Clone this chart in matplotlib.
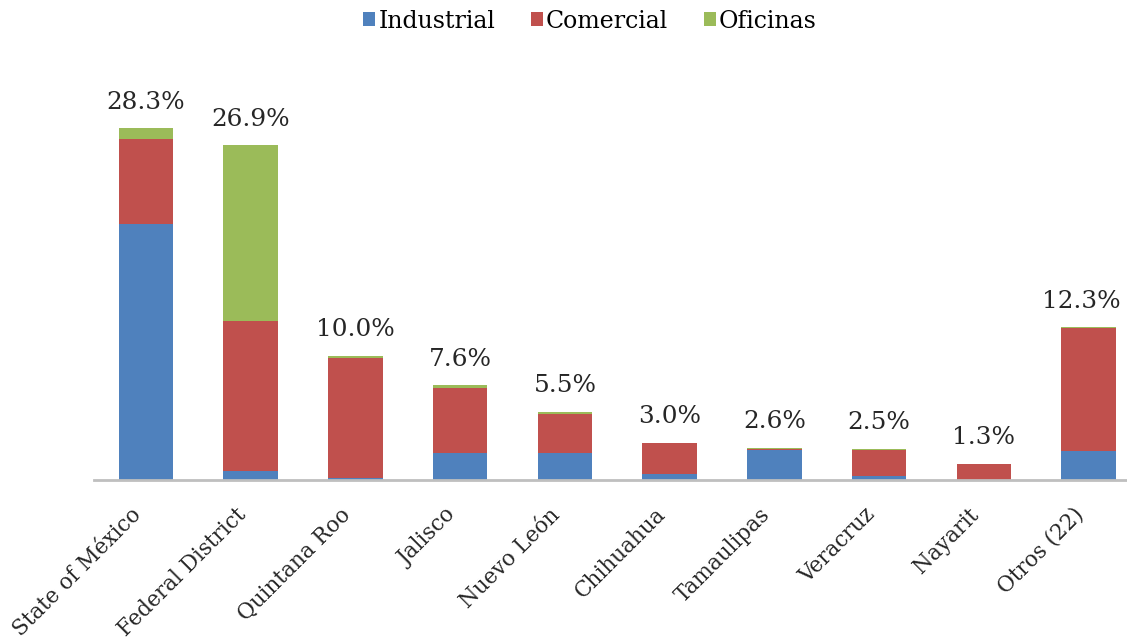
import matplotlib
matplotlib.use("Agg")
import matplotlib.pyplot as plt
import numpy as np

# Share of built area by state and use (percent)
states = ["State of México", "Federal District", "Quintana Roo", "Jalisco",
          "Nuevo León", "Chihuahua", "Tamaulipas", "Veracruz", "Nayarit",
          "Otros (22)"]
industrial = [20.6, 0.7, 0.2, 2.2, 2.2, 0.5, 2.4, 0.3, 0.0, 2.3]
comercial = [6.8, 12.1, 9.6, 5.2, 3.1, 2.5, 0.1, 2.1, 1.3, 9.9]
oficinas = [0.9, 14.1, 0.2, 0.2, 0.2, 0.0, 0.1, 0.1, 0.0, 0.1]

series_names = ["Industrial", "Comercial", "Oficinas"]
colors = ["#4F81BD", "#C0504D", "#9BBB59"]

plt.rcParams["font.family"] = ["DejaVu Serif"]

fig = plt.figure(figsize=(11.27, 6.42), dpi=100)
W, H = 1127, 642
left_px, right_px = 93.5, 1141.0
base_px, top_px = 480.0, 106.8
ax = fig.add_axes([left_px / W, (H - base_px) / H,
                   (right_px - left_px) / W, (base_px - top_px) / H])

x = np.arange(len(states))
ind = np.array(industrial)
com = np.array(comercial)
ofi = np.array(oficinas)
width = 0.52

ax.bar(x, ind, width, color=colors[0], label=series_names[0])
ax.bar(x, com, width, bottom=ind, color=colors[1], label=series_names[1])
ax.bar(x, ofi, width, bottom=ind + com, color=colors[2], label=series_names[2])

# Total labels above each stack; the last one is nudged left to stay on the canvas
totals = ind + com + ofi
for i, (xi, t) in enumerate(zip(x, totals)):
    dx = -5 if i == len(totals) - 1 else 0
    ax.annotate(f"{t:.1f}%", xy=(xi, t), xytext=(dx, 14),
                textcoords="offset points", ha="center", va="baseline",
                fontsize=17.8, color="#262626")

ax.set_xlim(-0.5, len(states) - 0.5)
ax.set_ylim(0, 30)
ax.set_yticks([])
for side in ["top", "right", "left"]:
    ax.spines[side].set_visible(False)
ax.spines["bottom"].set_color("#BFBFBF")
ax.spines["bottom"].set_linewidth(2)

ax.set_xticks(x)
ax.set_xticklabels(states, rotation=45, ha="right", va="top",
                   fontsize=15.5, color="#262626")
ax.tick_params(axis="x", length=0, pad=17)

fig.legend(loc="center", bbox_to_anchor=(590 / W, 1 - 21 / H), ncol=3,
           frameon=False, fontsize=17, handlelength=0.5, handleheight=0.5,
           handletextpad=0.15, columnspacing=1.5, borderaxespad=0)

fig.savefig("out.png", dpi=100)
